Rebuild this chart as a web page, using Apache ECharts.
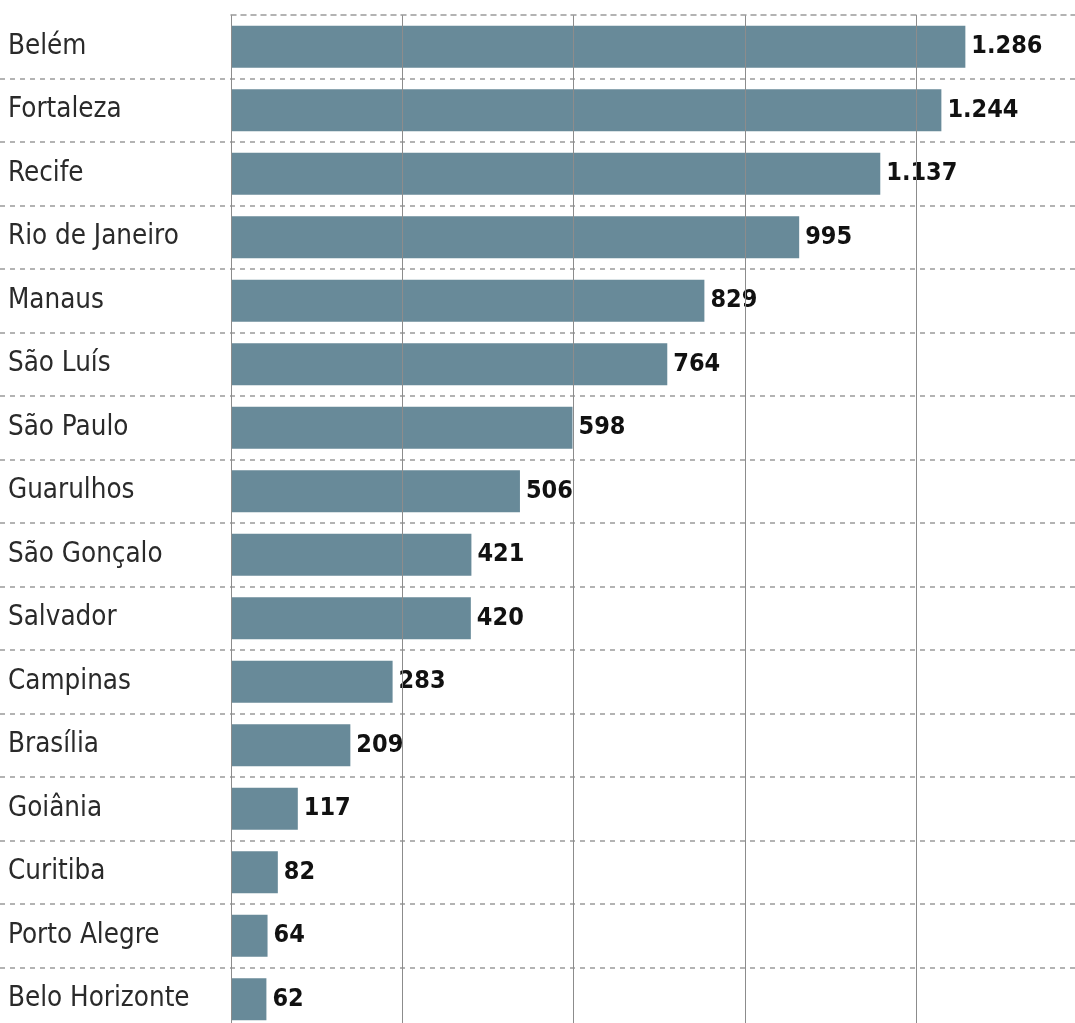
<!DOCTYPE html>
<html><head><meta charset="utf-8">
<script src="https://cdn.jsdelivr.net/npm/echarts@6/dist/echarts.min.js"></script>
<style>html,body{margin:0;padding:0;background:#fff;overflow:hidden}#c{width:1075px;height:1045px}</style>
</head><body><div id="c"></div>
<script>
const cities = ['Belém','Fortaleza','Recife','Rio de Janeiro','Manaus','São Luís','São Paulo','Guarulhos','São Gonçalo','Salvador','Campinas','Brasília','Goiânia','Curitiba','Porto Alegre','Belo Horizonte'];
const values = [1286,1244,1137,995,829,764,598,506,421,420,283,209,117,82,64,62];

const FONT = "'Liberation Sans Narrow','DejaVu Sans Condensed','Roboto Condensed',sans-serif";
const fmt = v => String(v).replace(/\B(?=(\d{3})+(?!\d))/g, '.');
const TOP = 15, BAND = 63.5;

const chart = echarts.init(document.getElementById('c'), null, {renderer:'canvas'});
chart.setOption({
  animation: false,
  grid: [
    {left: 0, right: 0, top: TOP + BAND, height: BAND * (cities.length - 1)},
    {left: 231, right: 0, top: TOP, height: BAND * cities.length}
  ],
  xAxis: [
    {gridIndex: 0, type: 'value', min: 0, max: 1, show: false},
    {gridIndex: 1, type: 'value', min: 0, max: 1478, interval: 300, position: 'top', z: 10,
     axisLine: {show: true, lineStyle: {color: '#9a9a9a', type: [5,5], width: 1.5}},
     axisTick: {show: false}, axisLabel: {show: false},
     splitLine: {show: true, lineStyle: {color: '#8c8c8c', width: 1}}}
  ],
  yAxis: [
    {gridIndex: 0, type: 'value', min: 0, max: cities.length - 1, interval: 1,
     axisLine: {show: false}, axisTick: {show: false}, axisLabel: {show: false},
     splitLine: {show: true, lineStyle: {color: '#9a9a9a', type: [5,5], width: 1.5}}},
    {gridIndex: 1, type: 'category', data: cities, inverse: true,
     axisLine: {show: true, lineStyle: {color: '#c8c8c8', width: 1}},
     axisTick: {show: false}, splitLine: {show: false},
     axisLabel: {align: 'left', margin: 223, fontFamily: FONT, fontSize: 27.5, color: '#2a2a2a'}}
  ],
  series: [{
    type: 'bar', xAxisIndex: 1, yAxisIndex: 1, data: values, barWidth: 42,
    itemStyle: {color: '#688a99'},
    label: {show: true, position: 'right', distance: 6, formatter: p => fmt(p.value),
      fontFamily: FONT, fontWeight: 'bold', fontSize: 25, color: '#111'}
  }]
});
</script></body></html>
